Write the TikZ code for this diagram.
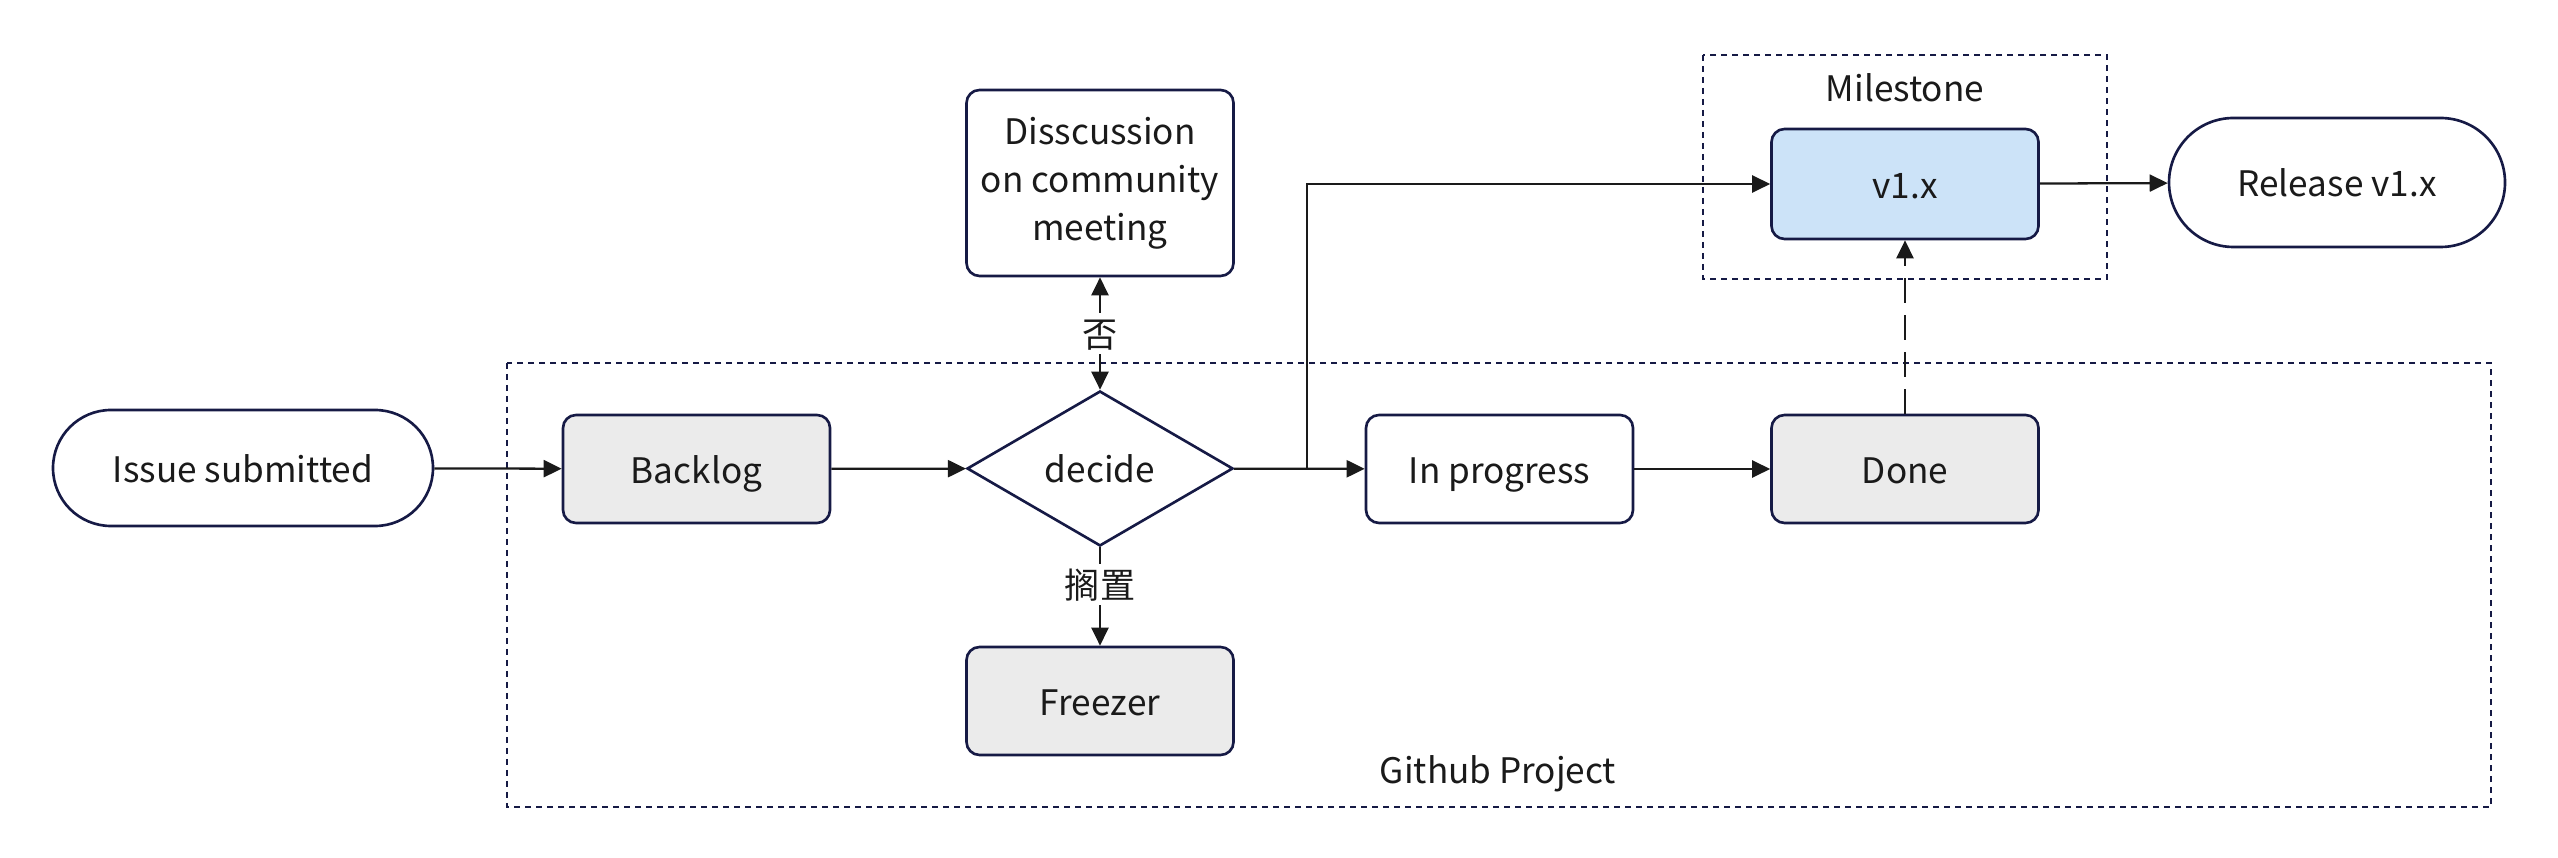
\documentclass[tikz,border=0pt]{standalone}
\usepackage{fontspec}
\setmainfont{Noto Sans CJK SC}
\usetikzlibrary{shapes.geometric,shapes.misc,arrows.meta}
\definecolor{navy}{HTML}{161A45}
\definecolor{ink}{HTML}{1A1A1A}
\definecolor{boxgray}{HTML}{EBEBEB}
\definecolor{boxblue}{HTML}{CCE3F8}
\tikzset{
  every node/.style={font=\fontsize{10pt}{13.7pt}\selectfont, text=ink},
  oneline/.style={text height=8.8pt, text depth=0.7pt},
  rbox/.style={draw=navy, line width=0.75pt, rounded corners=0.13cm, minimum width=2.67cm, minimum height=1.08cm, inner sep=0pt, align=center},
  pill/.style={draw=navy, line width=0.75pt, rounded rectangle, minimum width=3.8cm, minimum height=1.16cm, inner sep=0pt, oneline},
  dia/.style={draw=navy, line width=0.75pt, diamond, minimum width=2.66cm, minimum height=1.55cm, inner sep=0pt, oneline},
  tip/.tip={Triangle[length=0.18cm,width=0.17cm]},
  conn/.style={draw=ink, line width=0.65pt, -tip},
  frame/.style={draw=navy, line width=0.6pt, dash pattern=on 0.06cm off 0.05cm},
  elabel/.style={fill=white, inner sep=1pt}
}
\begin{document}
\begin{tikzpicture}
\useasboundingbox (0,0) rectangle (25.58,-8.58);
% frames
\draw[frame] (5.07,-3.63) rectangle (24.91,-8.07);
\draw[frame] (17.03,-0.55) rectangle (21.07,-2.79);
\node[oneline] (gp) at (14.98,-7.69) {Github Project};
\node[oneline] (ms) at (19.05,-0.87) {Milestone};
% nodes
\node[pill] (issue) at (2.43,-4.68) {Issue submitted};
\node[rbox, oneline, fill=boxgray] (backlog) at (6.965,-4.69) {Backlog};
\node[dia] (decide) at (11.00,-4.685) {decide};
\node[rbox, minimum height=1.86cm] (disc) at (11.00,-1.83) {Disscussion\\on community\\meeting};
\node[rbox, oneline, fill=boxgray] (freezer) at (11.00,-7.01) {Freezer};
\node[rbox, oneline, fill=white] (prog) at (14.995,-4.69) {In progress};
\node[rbox, oneline, fill=boxgray] (done) at (19.05,-4.69) {Done};
\node[rbox, oneline, fill=boxblue, minimum height=1.10cm] (v1) at (19.05,-1.84) {v1.x};
\node[pill, minimum width=3.36cm, minimum height=1.29cm] (rel) at (23.37,-1.825) {Release v1.x};
\coordinate (j) at (13.07,-4.685);
% connectors
\draw[conn] (issue) -- (backlog);
\draw[conn] (backlog) -- (decide);
\draw[conn] (decide) -- (prog);
\draw[conn] (j) |- (v1);
\draw[conn] (prog) -- (done);
\draw[conn] (v1) -- (rel);
\draw[conn, dash pattern=on 0.25cm off 0.12cm] (done) -- (v1);
\draw[conn, tip-tip] (decide.north) -- node[elabel, oneline] {否} (disc.south);
\draw[conn] (decide.south) -- node[elabel, oneline, pos=0.38] {搁置} (freezer.north);
\end{tikzpicture}
\end{document}
